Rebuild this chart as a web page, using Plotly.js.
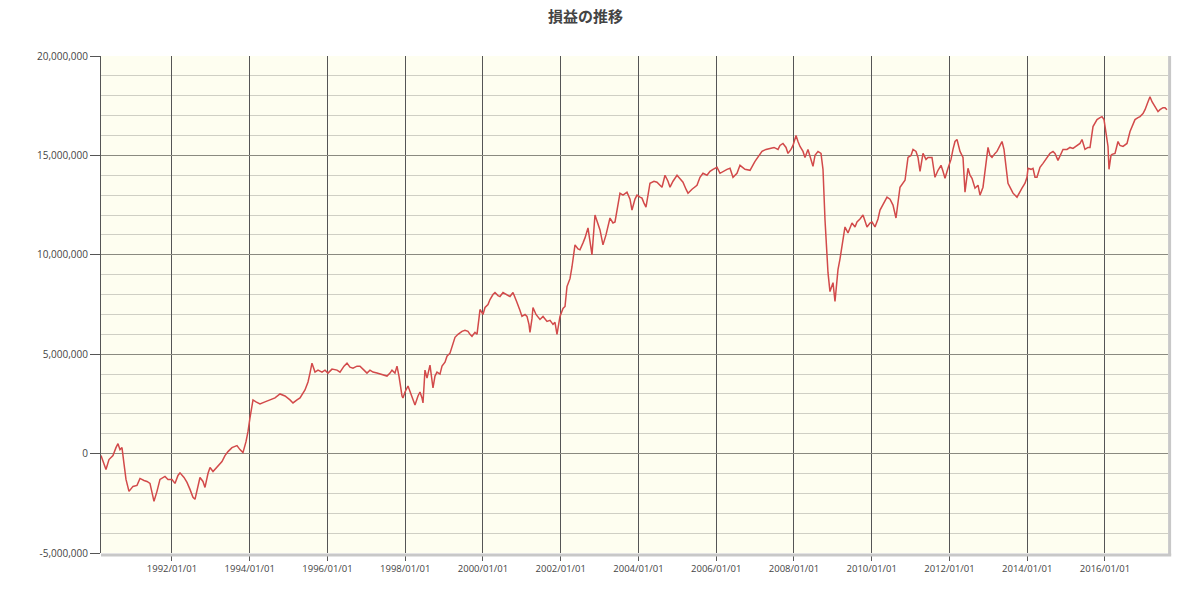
<!DOCTYPE html>
<html>
<head>
<meta charset="utf-8">
<script src="https://cdn.plot.ly/plotly-3.0.1.min.js"></script>
<style>html,body{margin:0;padding:0;background:#fff;}#chart{width:1200px;height:594px;}</style>
</head>
<body>
<div id="chart"></div>
<script>
// Time as decimal years, profit in millions of yen
const years = [
1990.174,1990.251,1990.302,1990.379,1990.482,1990.559,1990.611,1990.662,1990.714,1990.765,1990.817,1990.894,1990.997,
1991.100,1991.177,1991.280,1991.357,1991.434,1991.537,1991.614,1991.691,1991.820,1991.897,
1992.000,1992.077,1992.154,1992.206,1992.309,1992.386,1992.463,1992.540,1992.592,1992.669,1992.720,1992.797,1992.849,1992.926,1992.978,
1993.055,1993.106,1993.183,1993.286,1993.363,1993.441,1993.543,1993.672,1993.749,1993.826,1993.904,1993.955,
1994.006,1994.058,1994.084,1994.161,1994.264,1994.392,1994.521,1994.650,1994.778,1994.907,
1995.035,1995.113,1995.216,1995.293,1995.421,1995.499,1995.550,1995.601,1995.679,1995.756,1995.859,1995.936,
1996.013,1996.116,1996.245,1996.322,1996.425,1996.502,1996.579,1996.656,1996.759,1996.836,1996.939,
1997.016,1997.093,1997.171,1997.273,1997.351,1997.454,1997.531,1997.608,1997.659,1997.736,1997.788,1997.839,1997.865,1997.917,1997.942,1997.994,
1998.071,1998.148,1998.199,1998.251,1998.328,1998.380,1998.431,1998.457,1998.508,1998.560,1998.637,1998.714,1998.765,1998.817,1998.894,1998.946,
1999.023,1999.074,1999.151,1999.228,1999.280,1999.357,1999.460,1999.537,1999.614,1999.666,1999.717,1999.794,1999.846,1999.897,1999.923,
2000.000,2000.052,2000.129,2000.180,2000.257,2000.309,2000.386,2000.437,2000.515,2000.618,2000.695,2000.772,2000.823,2000.875,2000.952,
2001.003,2001.081,2001.132,2001.183,2001.209,2001.261,2001.286,2001.364,2001.466,2001.544,2001.647,2001.724,2001.801,2001.852,2001.904,2001.955,2001.981,
2002.058,2002.110,2002.161,2002.238,2002.290,2002.367,2002.444,2002.495,2002.573,2002.624,2002.701,2002.753,2002.804,2002.881,2002.958,
2003.010,2003.087,2003.164,2003.267,2003.344,2003.396,2003.473,2003.524,2003.602,2003.704,2003.782,2003.833,2003.910,2003.962,
2004.039,2004.090,2004.142,2004.193,2004.245,2004.296,2004.399,2004.476,2004.553,2004.605,2004.682,2004.759,2004.811,2004.888,2004.991,
2005.068,2005.145,2005.222,2005.274,2005.377,2005.505,2005.582,2005.659,2005.762,2005.840,2005.917,
2006.020,2006.097,2006.174,2006.277,2006.354,2006.431,2006.534,2006.611,2006.740,2006.869,2006.997,
2007.074,2007.177,2007.280,2007.383,2007.486,2007.589,2007.640,2007.717,2007.795,2007.846,2007.923,2007.975,
2008.052,2008.103,2008.155,2008.232,2008.283,2008.360,2008.412,2008.489,2008.541,2008.618,2008.695,2008.746,2008.798,2008.849,2008.875,2008.926,2008.978,
2009.004,2009.055,2009.106,2009.132,2009.184,2009.235,2009.312,2009.389,2009.492,2009.570,2009.621,2009.698,2009.775,2009.827,2009.878,2009.955,
2010.007,2010.084,2010.161,2010.213,2010.316,2010.393,2010.470,2010.547,2010.624,2010.676,2010.727,2010.856,2010.933,
2011.010,2011.062,2011.139,2011.190,2011.242,2011.319,2011.396,2011.447,2011.550,2011.627,2011.705,2011.782,2011.833,2011.885,2011.962,
2012.039,2012.090,2012.142,2012.193,2012.271,2012.348,2012.399,2012.476,2012.528,2012.579,2012.656,2012.734,2012.785,2012.862,2012.939,2012.991,
2013.042,2013.094,2013.171,2013.222,2013.300,2013.351,2013.402,2013.454,2013.505,2013.582,2013.634,2013.737,2013.814,2013.865,2013.943,2013.994,
2014.020,2014.097,2014.148,2014.200,2014.251,2014.328,2014.406,2014.483,2014.586,2014.663,2014.714,2014.791,2014.843,2014.920,
2015.023,2015.100,2015.177,2015.280,2015.357,2015.409,2015.486,2015.563,2015.615,2015.692,2015.795,2015.872,2015.923,2015.975,
2016.026,2016.078,2016.103,2016.155,2016.181,2016.258,2016.335,2016.386,2016.464,2016.566,2016.644,2016.721,2016.772,2016.849,2016.901,2016.978,
2017.030,2017.107,2017.158,2017.210,2017.287,2017.364,2017.415,2017.493,2017.544,2017.595
];
const profitMillions = [
-0.1,-0.5,-0.8,-0.3,-0.1,0.3,0.5,0.2,0.3,-0.5,-1.3,-1.9,-1.65,
-1.6,-1.25,-1.35,-1.4,-1.5,-2.4,-1.9,-1.3,-1.15,-1.3,
-1.3,-1.5,-1.1,-0.97,-1.2,-1.45,-1.8,-2.2,-2.3,-1.6,-1.2,-1.4,-1.7,-1.0,-0.7,
-0.9,-0.8,-0.6,-0.4,-0.1,0.1,0.3,0.4,0.2,0.05,0.6,1.1,
1.8,2.4,2.7,2.6,2.5,2.6,2.7,2.8,3.0,2.9,
2.7,2.55,2.7,2.8,3.2,3.6,4.05,4.55,4.1,4.2,4.1,4.2,
4.05,4.25,4.2,4.1,4.4,4.55,4.35,4.3,4.4,4.4,4.2,
4.05,4.2,4.1,4.05,4.0,3.95,3.9,4.05,4.2,4.05,4.4,3.9,3.5,2.9,2.8,3.1,
3.4,3.0,2.8,2.45,2.9,3.1,2.8,2.55,4.2,3.8,4.45,3.3,3.9,4.1,4.0,4.4,
4.6,4.9,5.05,5.5,5.85,6.0,6.15,6.2,6.15,6.0,5.9,6.1,6.0,6.8,7.25,
7.0,7.35,7.5,7.75,8.0,8.1,7.95,7.9,8.1,8.0,7.9,8.1,7.8,7.6,7.2,
6.9,7.0,6.9,6.5,6.1,6.8,7.35,7.0,6.75,6.9,6.65,6.7,6.5,6.6,6.0,6.6,6.9,
7.3,7.4,8.4,8.8,9.4,10.5,10.3,10.25,10.6,10.85,11.35,10.6,10.0,12.0,11.5,
11.25,10.5,11.0,11.85,11.6,11.65,12.5,13.1,13.0,13.15,12.8,12.25,12.8,13.0,
12.9,12.85,12.6,12.4,13.0,13.6,13.7,13.65,13.5,13.4,14.0,13.7,13.4,13.7,14.0,
13.85,13.65,13.3,13.1,13.3,13.5,13.9,14.1,14.0,14.2,14.3,
14.4,14.1,14.2,14.3,14.35,13.9,14.1,14.5,14.3,14.25,14.7,
14.9,15.2,15.3,15.35,15.4,15.3,15.5,15.6,15.4,15.1,15.3,15.5,
16.0,15.7,15.45,15.2,14.9,15.3,15.0,14.45,15.0,15.2,15.1,14.3,11.75,10.1,9.1,8.15,8.4,
8.6,7.65,8.6,9.25,9.8,10.4,11.4,11.1,11.6,11.4,11.65,11.8,12.0,11.7,11.4,11.6,
11.65,11.4,11.8,12.25,12.6,12.9,12.8,12.5,11.85,12.6,13.4,13.75,14.9,
15.0,15.3,15.2,14.9,14.2,15.1,14.8,14.9,14.9,13.9,14.25,14.5,14.2,13.85,14.35,
14.8,15.3,15.7,15.8,15.2,14.9,13.15,14.35,14.0,13.85,13.35,13.5,13.0,13.4,14.5,15.4,
15.0,14.9,15.1,15.2,15.5,15.7,15.3,14.4,13.6,13.3,13.1,12.9,13.2,13.35,13.6,13.9,
14.35,14.3,14.35,13.9,13.9,14.4,14.6,14.8,15.1,15.2,15.1,14.75,15.0,15.3,
15.3,15.4,15.35,15.5,15.6,15.8,15.3,15.4,15.4,16.45,16.8,16.9,16.95,16.8,
16.1,15.45,14.3,15.0,15.05,15.1,15.7,15.5,15.45,15.6,16.2,16.6,16.8,16.9,16.95,17.1,
17.3,17.7,17.95,17.7,17.45,17.2,17.3,17.4,17.4,17.3
];
const xTickVals = [1992,1994,1996,1998,2000,2002,2004,2006,2008,2010,2012,2014,2016];
const xTickText = ["1992/01/01","1994/01/01","1996/01/01","1998/01/01","2000/01/01","2002/01/01","2004/01/01","2006/01/01","2008/01/01","2010/01/01","2012/01/01","2014/01/01","2016/01/01"];
const yTickVals = [-5000000,0,5000000,10000000,15000000,20000000];
const yTickText = ["-5,000,000","0","5,000,000","10,000,000","15,000,000","20,000,000"];
const chartTitle = "損益の推移";

const trace = {
  x: years,
  y: profitMillions.map(v => v * 1e6),
  type: "scatter",
  mode: "lines",
  line: {color: "#d24a4a", width: 1.5},
  hoverinfo: "skip"
};

const layout = {
  width: 1200, height: 594,
  margin: {l: 101, r: 32, t: 56, b: 41, pad: 0},
  paper_bgcolor: "#ffffff",
  plot_bgcolor: "#fefef0",
  showlegend: false,
  title: {text: "<b>" + chartTitle + "</b>", x: 0.488, xref: "container", xanchor: "center", y: 0.972, yref: "container", yanchor: "middle",
          font: {family: "Noto Sans CJK JP", size: 15, color: "#444"}},
  xaxis: {
    type: "linear", range: [1990.174, 2017.621],
    tickmode: "array", tickvals: xTickVals, ticktext: xTickText,
    showgrid: true, gridcolor: "#555", gridwidth: 1,
    zeroline: false, showline: false,
    ticks: "outside", ticklen: 7, tickcolor: "#555", tickwidth: 1,
    tickfont: {family: "Open Sans", size: 9.5, color: "#444"}
  },
  yaxis: {
    range: [-5000000, 20000000],
    tickmode: "array", tickvals: yTickVals, ticktext: yTickText,
    showgrid: true, gridcolor: "#8a8a80", gridwidth: 1,
    minor: {tickmode: "linear", tick0: 0, dtick: 1000000, showgrid: true, gridcolor: "#cfcfc4", gridwidth: 1, ticks: ""},
    zeroline: false, showline: true, linecolor: "#555", linewidth: 1,
    ticks: "outside", ticklen: 10, tickcolor: "#555", tickwidth: 1,
    tickfont: {family: "Open Sans", size: 10, color: "#444"}
  },
  shapes: [
    {type: "line", xref: "paper", yref: "paper", x0: 1.0015, x1: 1.0015, y0: -0.004, y1: 1, line: {color: "#c8c8c8", width: 3}},
    {type: "line", xref: "paper", yref: "paper", x0: 0, x1: 1.003, y0: -0.004, y1: -0.004, line: {color: "#c8c8c8", width: 3}}
  ],
  hovermode: false
};

Plotly.newPlot("chart", [trace], layout, {displayModeBar: false, staticPlot: true});
</script>
</body>
</html>
